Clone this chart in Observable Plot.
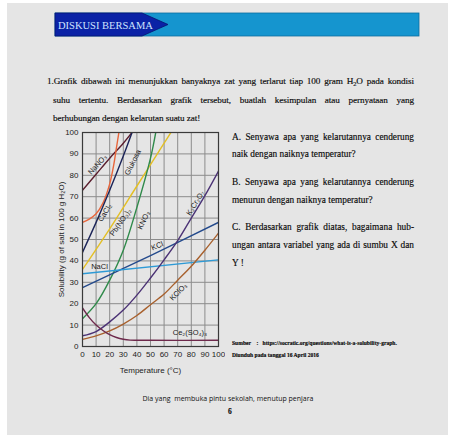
<!DOCTYPE html>
<html>
<head>
<meta charset="utf-8">
<script src="https://cdn.jsdelivr.net/npm/d3@7"></script>
<script src="https://cdn.jsdelivr.net/npm/@observablehq/plot@0.6"></script>
<style>
  html, body { margin: 0; padding: 0; background: #ffffff; }
  #page { position: relative; width: 450px; height: 435px; overflow: hidden; }
  #sheet { position: absolute; left: 7px; top: 3px; width: 441px; height: 432px; background: #e5e5e5; }
  .abs { position: absolute; white-space: nowrap; }
  .serif { font-family: "Liberation Serif", "DejaVu Serif", serif; color: #0a0a0a; -webkit-text-stroke: 0.15px #0a0a0a; }
  .just { text-align: justify; text-align-last: justify; }
  #chart { position: absolute; left: 40px; top: 120px; }
</style>
</head>
<body>
<div id="page">
  <div id="sheet"></div>
  <svg class="abs" style="left:0;top:0" width="450" height="60">
    <rect x="55" y="13" width="364" height="23" fill="#1595cf" stroke="#0d6fa0" stroke-width="0.8"/>
    <polygon points="55,13 142,13 168,24.5 142,36 55,36" fill="#0a22a6" stroke="#061470" stroke-width="0.8"/>
    <text x="58" y="28.5" font-family="Liberation Serif, serif" font-size="10.5" fill="#cfe4ff">DISKUSI BERSAMA</text>
  </svg>

  <div class="abs serif just" style="left:47px;top:75px;width:367px;font-size:9.2px;line-height:12px;letter-spacing:-0.1px;">1.Grafik dibawah ini menunjukkan banyaknya zat yang terlarut tiap 100 gram H<span style="font-size:6.5px;position:relative;top:2px">2</span>O pada kondisi</div>
  <div class="abs serif just" style="left:53px;top:94px;width:361px;font-size:9.2px;line-height:12px;letter-spacing:-0.1px;">suhu tertentu. Berdasarkan grafik tersebut, buatlah kesimpulan atau pernyataan yang</div>
  <div class="abs serif" style="left:53px;top:112px;font-size:9.2px;line-height:12px;letter-spacing:-0.1px;">berhubungan dengan kelarutan suatu zat!</div>

  <div id="chart"></div>

  <div class="abs serif just" style="left:232px;top:131px;width:182px;font-size:9.3px;line-height:12px;">A. Senyawa apa yang kelarutannya cenderung</div>
  <div class="abs serif" style="left:232px;top:148px;font-size:9.3px;line-height:12px;">naik dengan naiknya temperatur?</div>
  <div class="abs serif just" style="left:232px;top:176px;width:182px;font-size:9.3px;line-height:12px;">B. Senyawa apa yang kelarutannya cenderung</div>
  <div class="abs serif" style="left:232px;top:194px;font-size:9.3px;line-height:12px;">menurun dengan naiknya temperatur?</div>
  <div class="abs serif just" style="left:232px;top:221px;width:182px;font-size:9.3px;line-height:12px;">C. Berdasarkan grafik diatas, bagaimana hub-</div>
  <div class="abs serif just" style="left:232px;top:239px;width:182px;font-size:9.3px;line-height:12px;">ungan antara variabel yang ada di sumbu X dan</div>
  <div class="abs serif" style="left:232px;top:257px;font-size:9.3px;line-height:12px;">Y !</div>

  <div class="abs serif" style="left:232px;top:340px;font-size:5.6px;font-weight:bold;line-height:7px;">Sumber&nbsp;&nbsp;&nbsp;&nbsp;:&nbsp;&nbsp;&nbsp;https://socratic.org/questions/what-is-a-solubility-graph.</div>
  <div class="abs serif" style="left:232px;top:352px;font-size:5.6px;font-weight:bold;line-height:7px;">Diunduh pada tanggal 16 April 2016</div>

  <div class="abs" style="left:0;width:456px;top:394px;text-align:center;font-family:'Open Sans','Liberation Sans',sans-serif;font-size:7px;line-height:9px;color:#111;">Dia yang&nbsp; membuka pintu sekolah, menutup penjara</div>
  <div class="abs serif" style="left:228px;top:407px;font-size:7.5px;font-weight:bold;line-height:9px;">6</div>
</div>

<script>
// ---- data ----
const xTicks = [0, 10, 20, 30, 40, 50, 60, 70, 80, 90, 100];
const yTicks = [0, 10, 20, 30, 40, 50, 60, 70, 80, 90, 100];

const seriesNames = ["NaNO3", "CaCl2", "Glukosa", "Pb(NO3)2", "KNO3", "KCl", "NaCl", "K2Cr2O7", "KClO3", "Ce2(SO4)3"];
const seriesColors = ["#5b1f2e", "#e8663c", "#1b2458", "#e3bf25", "#2f8a4a", "#244a8c", "#2d9ad6", "#4b3275", "#a8612e", "#6e2a4c"];

const nano3T = [0, 10, 20, 30, 37];
const nano3V = [73, 80.5, 88, 95, 100.5];
const cacl2T = [0, 5, 10, 15, 20, 23, 25, 27];
const cacl2V = [58, 59.5, 62, 67, 76, 85, 93, 101];
const glukosaT = [0, 10, 20, 30, 37];
const glukosaV = [44, 58, 73, 89, 101];
const pbno3T = [0, 20, 40, 60, 66];
const pbno3V = [36, 55, 75, 95, 101];
const kno3T = [0, 10, 20, 30, 40, 50, 54];
const kno3V = [13, 20, 31, 45, 65, 88, 100.5];
const kclT = [0, 50, 100];
const kclV = [27.5, 42.5, 58];
const naclT = [0, 100];
const naclV = [34, 40.5];
const k2cr2o7T = [0, 10, 20, 30, 40, 50, 60, 70, 80, 90, 100];
const k2cr2o7V = [5, 7, 11.5, 17, 24, 32, 40.5, 49.5, 60, 70.5, 82];
const kclo3T = [0, 10, 20, 30, 40, 50, 60, 70, 80, 90, 100];
const kclo3V = [3.3, 5, 7.3, 10.5, 14.5, 19.5, 24.5, 31, 37.5, 45, 53];
const ce2so43T = [0, 5, 10, 15, 20, 25, 30, 35, 50, 100];
const ce2so43V = [18, 13.5, 10, 7.5, 5.5, 4.2, 3.4, 3, 2.9, 2.9];

const labelText = ["NaNO₃", "CaCl₂", "Glukosa", "Pb(NO₃)₂", "KNO₃", "KCl", "NaCl", "K₂Cr₂O₇", "KClO₃", "Ce₂(SO₄)₃"];
const labelT = [11, 16.5, 37, 28, 45, 55, 12.5, 83, 70.5, 79];
const labelV = [85, 62.5, 86, 58, 59, 47, 37.5, 67, 25.5, 6.5];
const labelAngle = [-48, -58, -63, -55, -65, -22, 0, -58, -45, 0];

// ---- build tables ----
const seriesT = [nano3T, cacl2T, glukosaT, pbno3T, kno3T, kclT, naclT, k2cr2o7T, kclo3T, ce2so43T];
const seriesV = [nano3V, cacl2V, glukosaV, pbno3V, kno3V, kclV, naclV, k2cr2o7V, kclo3V, ce2so43V];
const rows = [];
seriesNames.forEach((name, i) => {
  seriesT[i].forEach((t, j) => rows.push({name, t, v: seriesV[i][j]}));
});
const labels = labelText.map((text, i) => ({name: seriesNames[i], text, t: labelT[i], v: labelV[i], a: labelAngle[i]}));

const chart = Plot.plot({
  width: 185,
  height: 260,
  marginLeft: 42,
  marginRight: 7,
  marginTop: 12,
  marginBottom: 34,
  style: {background: "transparent", fontFamily: "'Liberation Sans', Arial, sans-serif", fontSize: "8px", color: "#222"},
  x: {domain: [0, 100], label: null},
  y: {domain: [0, 100], label: null},
  color: {domain: seriesNames, range: seriesColors},
  marks: [
    Plot.gridX(xTicks, {stroke: "#8c8c8c", strokeOpacity: 1, strokeWidth: 1}),
    Plot.gridY(yTicks, {stroke: "#8c8c8c", strokeOpacity: 1, strokeWidth: 1}),
    Plot.axisX(xTicks, {tickSize: 0, tickPadding: 5, fontSize: 8, label: "Temperature (°C)", labelAnchor: "center", labelOffset: 26, labelArrow: "none"}),
    Plot.axisY(yTicks, {tickSize: 0, tickPadding: 4, fontSize: 8, label: "Solubility (g of salt in 100 g H₂O)", labelAnchor: "center", labelOffset: 24, labelArrow: "none"}),
    Plot.line(rows, {x: "t", y: "v", z: "name", stroke: "name", curve: "catmull-rom", strokeWidth: 1.4, clip: true}),
    Plot.text(labels, {x: "t", y: "v", text: "text", rotate: "a", fontSize: 7.5, fill: "#1a1a1a"}),
    Plot.frame({stroke: "#3a3a3a", strokeWidth: 1.2})
  ]
});
document.getElementById("chart").appendChild(chart);
</script>
</body>
</html>
